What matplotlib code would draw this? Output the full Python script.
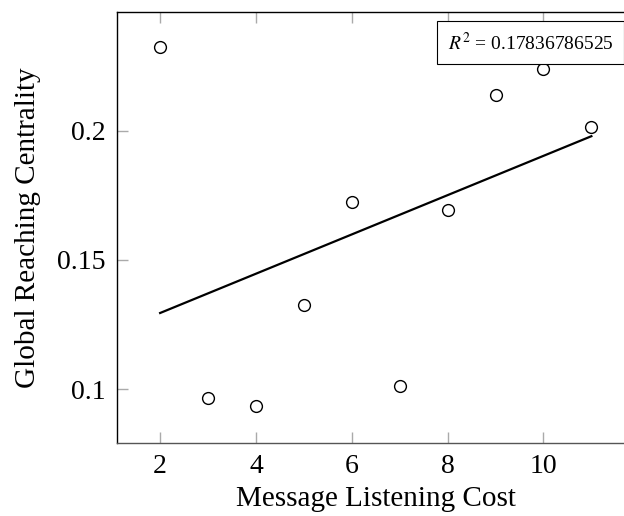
import numpy as np
import matplotlib
matplotlib.use("Agg")
import matplotlib.pyplot as plt
from matplotlib.lines import Line2D

plt.rcParams["font.family"] = ["Liberation Serif", "DejaVu Serif"]
plt.rcParams["mathtext.fontset"] = "stix"

# values
cost = [2, 3, 4, 5, 6, 7, 8, 9, 10, 11]
grc = [0.2324, 0.0964, 0.0934, 0.1326, 0.1724, 0.1012, 0.1692, 0.2137, 0.2240, 0.2015]
r2_label = r"$R^2$ = 0.17836786525"

xticks = [2, 4, 6, 8, 10]
yticks = [0.1, 0.15, 0.2]
ytick_labels = ["0.1", "0.15", "0.2"]

fig = plt.figure(figsize=(6.24, 5.16), dpi=100)
# axes run past the right edge, the reference is cropped there
ax = fig.add_axes([117 / 624, 1 - 443 / 516, 517.5 / 624, 430.7 / 516])

ax.plot(cost, grc, "o", ms=8.5, mfc="white", mec="black", mew=1.0, zorder=3)

slope, icpt = np.polyfit(cost, grc, 1)
xs = np.array([cost[0], cost[-1]])
ax.plot(xs, slope * xs + icpt, "-", color="black", lw=1.6, zorder=2)

ax.set_xlim(1.1, 11.9)
ax.set_ylim(0.0791, 0.2459)
ax.set_xticks(xticks)
ax.set_yticks(yticks)
ax.set_yticklabels(ytick_labels)
ax.tick_params(direction="in", length=8, width=1, color="#aaaaaa",
               top=True, right=True, labelsize=20, pad=8)
for s in ax.spines.values():
    s.set_linewidth(1.0)
ax.spines["bottom"].set_color("#555555")

ax.set_xlabel("Message Listening Cost", fontsize=21, labelpad=5)
ax.set_ylabel("Global Reaching Centrality", fontsize=21, labelpad=12)

h = Line2D([], [], linestyle="none")
leg = ax.legend([h], [r2_label], loc="upper right", bbox_to_anchor=(0.98, 0.98),
                borderaxespad=0, handlelength=0, handletextpad=0, fancybox=False,
                edgecolor="black", framealpha=1, fontsize=14, borderpad=0.55)
leg.get_frame().set_linewidth(0.8)

fig.savefig("out.png", dpi=100)
